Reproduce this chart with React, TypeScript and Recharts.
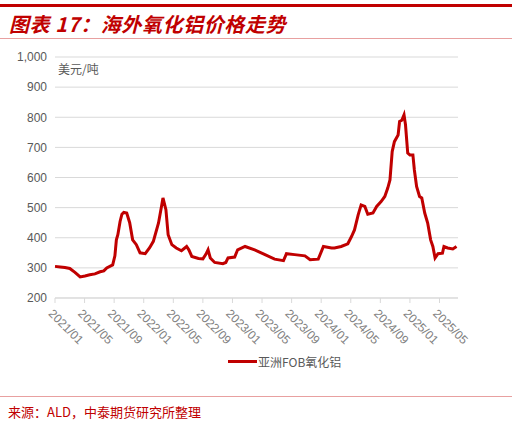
import React from "react";
import { LineChart, Line, XAxis, YAxis, CartesianGrid } from "recharts";

// 月份序号：0 = 2021/01，按图上位置读取（周度数据，取拐点）
const monthIdx = [
  0, 0.7, 1.35, 2.0, 2.7, 3.4, 4.05, 4.7, 5.4, 6.1, 6.6, 7.0, 7.8, 8.1, 8.3, 8.5,
  8.8, 9.05, 9.3, 9.7, 10.1, 10.5, 11.0, 11.5, 12.2, 12.8, 13.3, 14.0, 14.4, 14.6,
  15.0, 15.3, 15.8, 16.4, 17.1, 17.8, 18.1, 18.5, 19.4, 20.0, 20.4, 20.7, 21.0,
  21.6, 22.7, 23.1, 23.4, 24.3, 24.7, 25.7, 27.0, 28.4, 29.7, 30.9, 31.3, 32.4,
  33.8, 34.5, 35.6, 36.3, 37.4, 37.8, 38.7, 39.6, 40.1, 40.5, 41.0, 41.4, 41.9,
  42.3, 43.0, 43.5, 44.1, 44.6, 45.0, 45.3, 45.6, 45.9, 46.4, 46.6, 46.9, 47.2,
  47.4, 47.7, 48.0, 48.4, 48.6, 48.9, 49.3, 49.6, 50.0, 50.4, 50.8, 51.1, 51.4,
  51.8, 52.4, 52.6, 53.1, 53.8, 54.3,
];

// 亚洲FOB氧化铝（美元/吨）
const asiaFob = [
  305, 303, 301, 298, 285, 270, 273, 277, 280, 287, 290, 300, 310, 340, 393, 410,
  454, 478, 484, 482, 450, 393, 377, 350, 347, 367, 388, 449, 504, 532,
  493, 410, 377, 366, 357, 371, 360, 338, 331, 330, 345, 360, 333,
  318, 314, 318, 333, 336, 360, 371, 360, 344, 329, 324, 347, 344,
  340, 327, 329, 371, 366, 366, 371, 380, 404, 426, 476, 509, 504,
  478, 482, 504, 520, 537, 565, 592, 686, 719, 741, 786, 790, 808,
  775, 681, 675, 675, 625, 570, 537, 532, 482, 449, 393, 371, 333,
  347, 349, 371, 366, 363, 371,
];

const xTicks = [0, 4, 8, 12, 16, 20, 24, 28, 32, 36, 40, 44, 48, 52];
const yTicks = [200, 300, 400, 500, 600, 700, 800, 900, 1000];

const seriesName = "亚洲FOB氧化铝";

const data = monthIdx.map((m, i) => ({ m, v: asiaFob[i] }));

const RED = "#C00000";
const FONT = "'Liberation Sans', Arial, sans-serif";
const CJK = "'Noto Sans CJK SC', sans-serif";

const monthLabel = (m: number) => {
  const y = 2021 + Math.floor(m / 12);
  const mo = (m % 12) + 1;
  return `${y}/${mo < 10 ? "0" + mo : mo}`;
};

// 斜 45° 的日期标签
function XTick(props: any) {
  const { x, y, payload } = props;
  const tx = x - 1;
  const ty = y + 3;
  return (
    <text
      x={tx}
      y={ty}
      transform={`rotate(45 ${tx} ${ty})`}
      textAnchor="start"
      dominantBaseline="hanging"
      fill="#7f7f7f"
      fontSize={12}
      fontFamily={FONT}
    >
      {monthLabel(payload.value)}
    </text>
  );
}

export default function App() {
  return (
    <div
      style={{
        position: "absolute",
        left: 0,
        top: 0,
        width: 515,
        height: 424,
        background: "#fff",
        overflow: "hidden",
      }}
    >
      {/* 顶部红线 + 标题 */}
      <div style={{ position: "absolute", left: 0, top: 4, width: 512, height: 3, background: RED }} />
      <div
        style={{
          position: "absolute",
          left: 9,
          top: 12,
          fontFamily: CJK,
          fontWeight: 700,
          fontStyle: "italic",
          fontSize: 20,
          letterSpacing: 0.6,
          color: RED,
          lineHeight: "24px",
          whiteSpace: "nowrap",
        }}
      >
        图表 17：海外氧化铝价格走势
      </div>
      <div style={{ position: "absolute", left: 0, top: 38, width: 512, height: 1, background: "#e8a0a0" }} />

      <div style={{ position: "absolute", left: 0, top: 0 }}>
        <LineChart
          width={515}
          height={424}
          data={data}
          margin={{ top: 57, right: 57, left: 10, bottom: 76 }}
        >
          <CartesianGrid stroke="#d9d9d9" vertical={false} />
          <XAxis
            dataKey="m"
            type="number"
            domain={[0, 54.5]}
            ticks={xTicks}
            interval={0}
            height={50}
            stroke="#d9d9d9"
            tickLine={{ stroke: "#d9d9d9" }}
            tickSize={5}
            tick={<XTick />}
          />
          <YAxis
            domain={[200, 1000]}
            ticks={yTicks}
            width={45}
            axisLine={false}
            tickLine={false}
            tick={{ fontSize: 12, fill: "#595959", fontFamily: FONT }}
            tickFormatter={(v) => Number(v).toLocaleString("en-US")}
          />
          <Line
            type="linear"
            dataKey="v"
            name={seriesName}
            stroke={RED}
            strokeWidth={3}
            dot={false}
            isAnimationActive={false}
          />
        </LineChart>
      </div>

      {/* 单位 */}
      <div
        style={{
          position: "absolute",
          left: 58,
          top: 60,
          fontFamily: CJK,
          fontSize: 12,
          color: "#595959",
        }}
      >
        美元/吨
      </div>

      {/* 图例 */}
      <div
        style={{
          position: "absolute",
          left: 228,
          top: 353,
          display: "flex",
          alignItems: "center",
          fontFamily: CJK,
          fontSize: 12,
          color: "#595959",
        }}
      >
        <span style={{ display: "inline-block", width: 29, height: 3, background: RED, marginRight: 1 }} />
        {seriesName}
      </div>

      {/* 底部来源 */}
      <div style={{ position: "absolute", left: 0, top: 396, width: 512, height: 1, background: "#e8a0a0" }} />
      <div
        style={{
          position: "absolute",
          left: 8,
          top: 403,
          fontFamily: CJK,
          fontSize: 13,
          color: RED,
          whiteSpace: "nowrap",
          lineHeight: "18px",
        }}
      >
        来源：ALD，中泰期货研究所整理
      </div>
    </div>
  );
}
